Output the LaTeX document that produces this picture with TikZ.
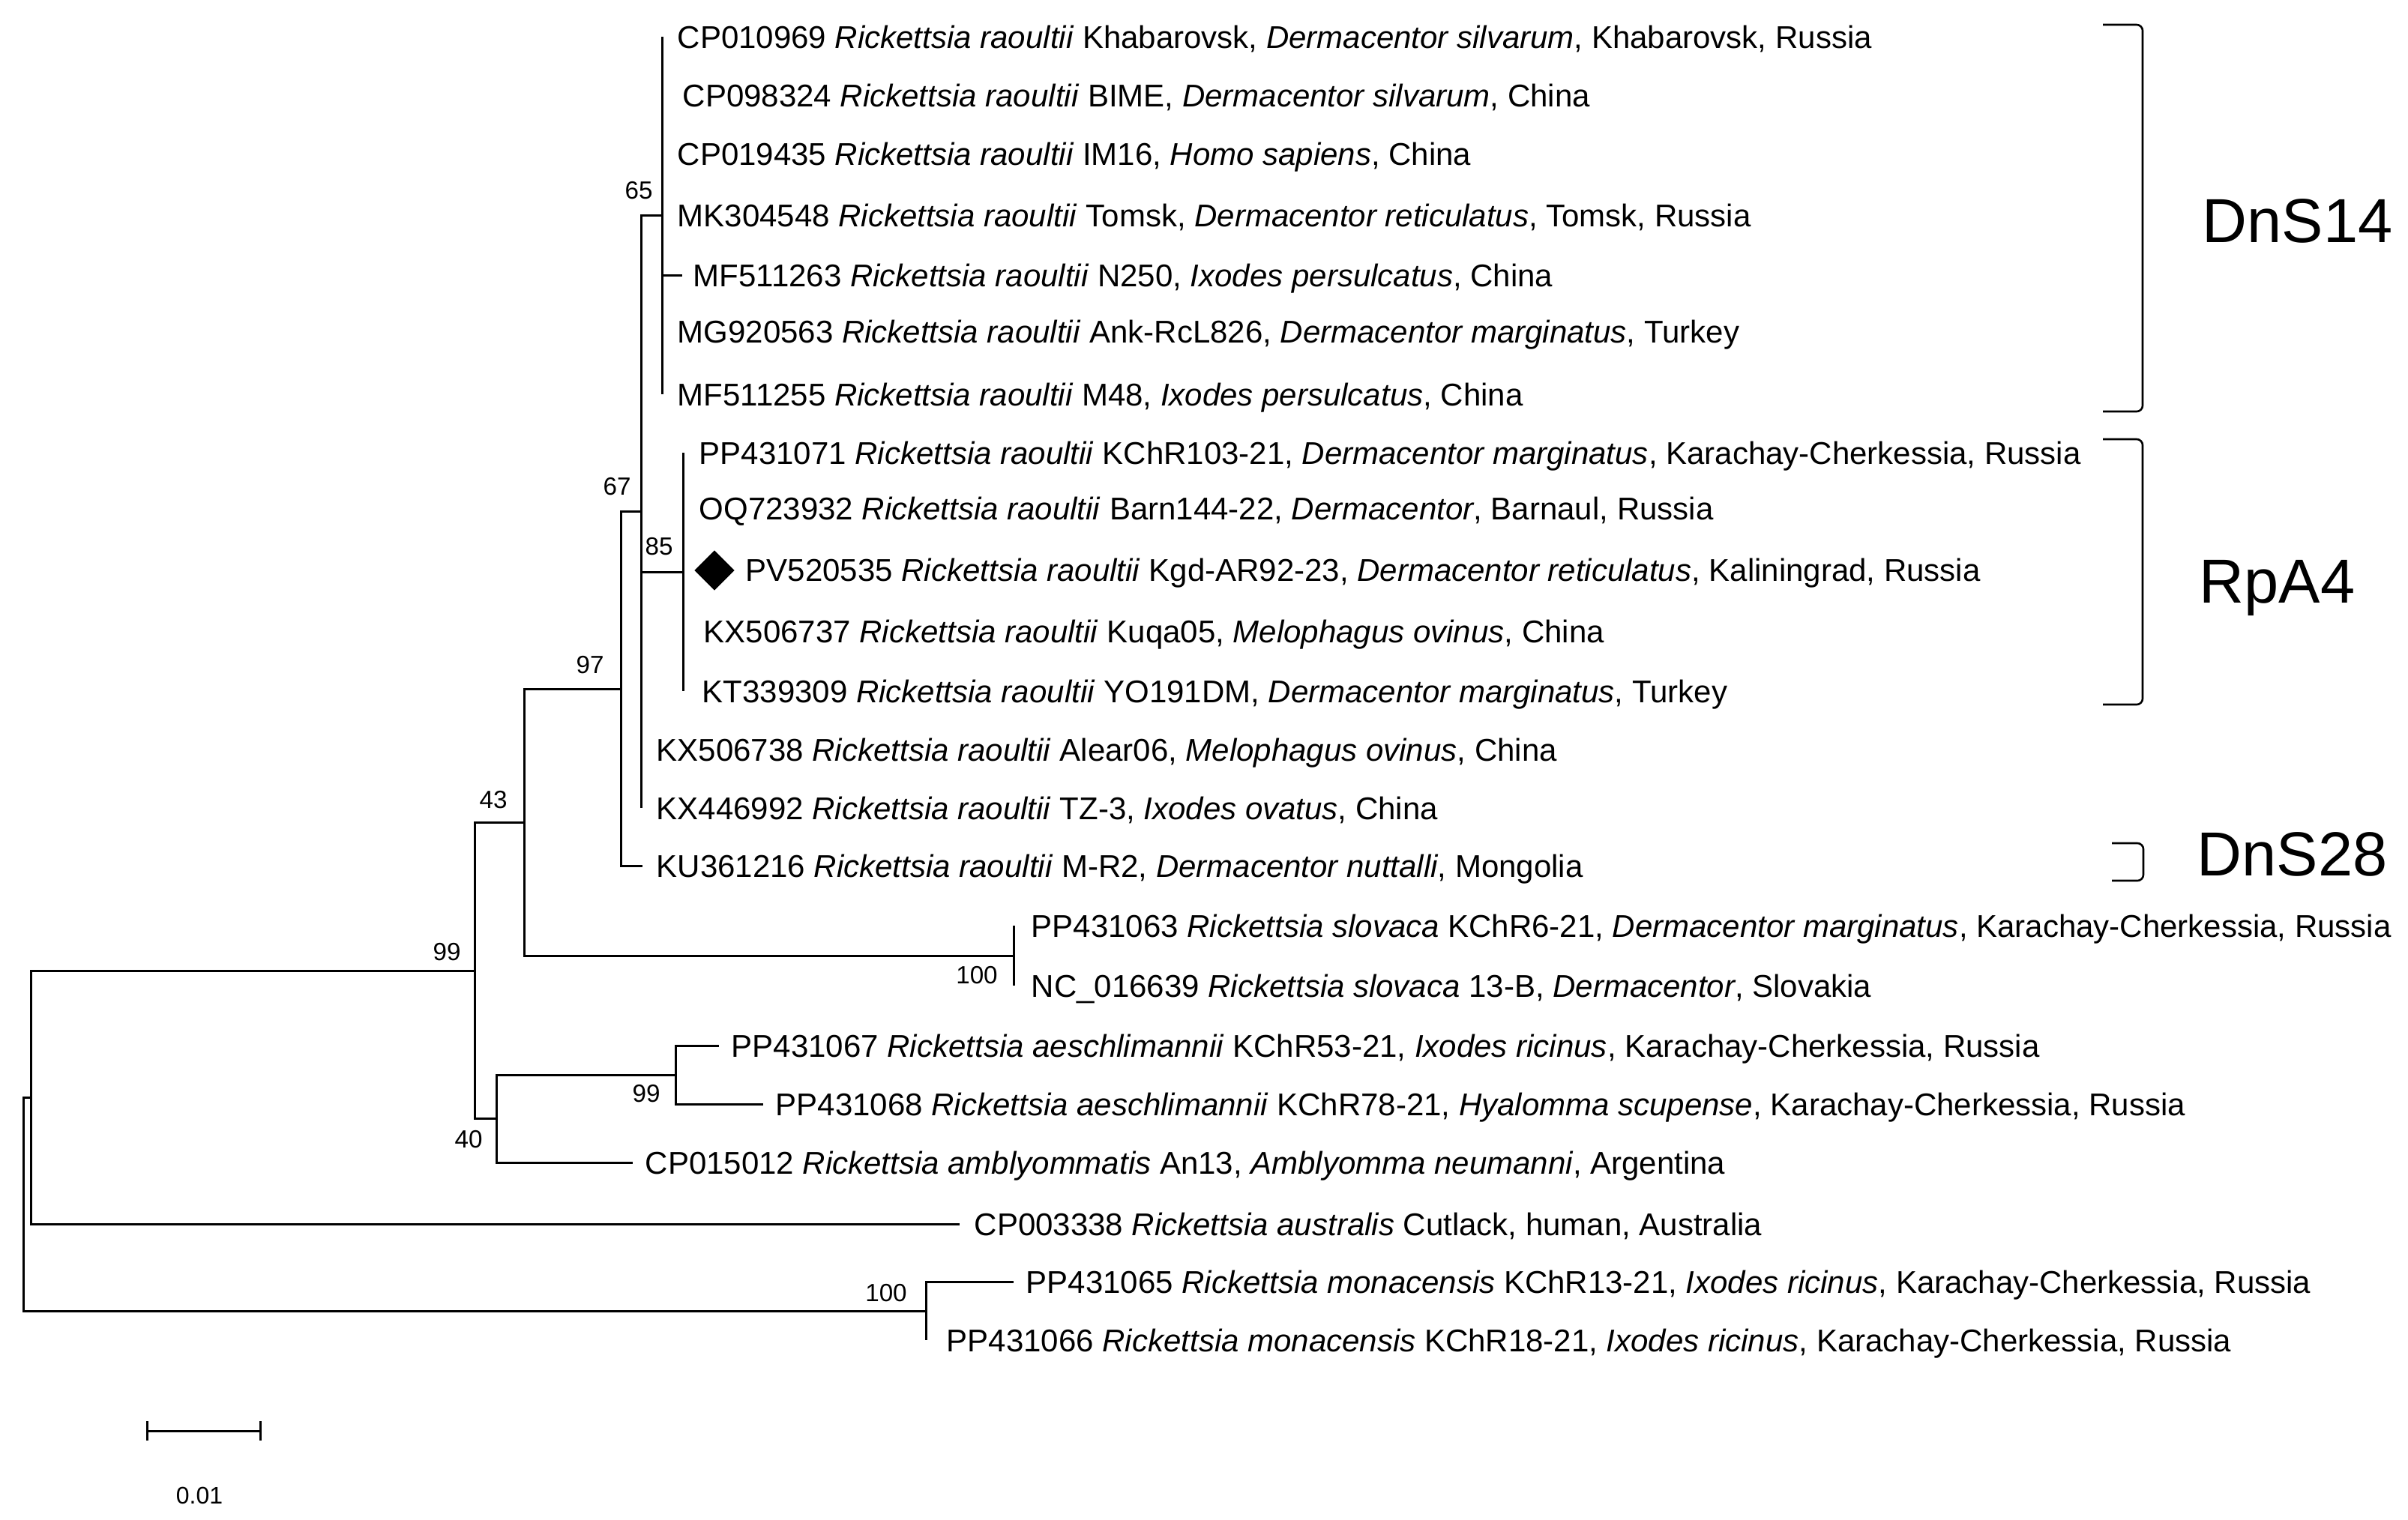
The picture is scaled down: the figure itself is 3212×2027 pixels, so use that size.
\documentclass[tikz,border=0pt]{standalone}
\usepackage{fontspec}
\setmainfont{Liberation Sans}
\usetikzlibrary{shapes.geometric}
\begin{document}
\begin{tikzpicture}[x=0.25pt,y=-0.25pt,
  br/.style={line width=0.75pt},
  leaf/.style={anchor=base west,inner sep=0pt,font=\fontsize{10.5pt}{12pt}\selectfont},
  boot/.style={inner sep=0pt,font=\fontsize{8.3pt}{10pt}\selectfont},
  clade/.style={anchor=base west,inner sep=0pt,font=\fontsize{20.75pt}{24pt}\selectfont},
  bracket/.style={line width=0.65pt,rounded corners=2pt}]
\useasboundingbox (0,0) rectangle (3212,2027);

% internal nodes
\coordinate (nR) at (31,1606);
\coordinate (nA) at (41,1464);
\coordinate (n99) at (633,1295);
\coordinate (n43) at (699,1097);
\coordinate (n97) at (828,919);
\coordinate (n67) at (855,682);
\coordinate (n65) at (883,287);
\coordinate (n85) at (911,763);
\coordinate (nSl) at (1352,1275);
\coordinate (n40) at (662,1492);
\coordinate (nAe) at (901,1434);
\coordinate (nMo) at (1235,1749);

% leaf tips
\coordinate (t1) at (883,49);
\coordinate (t2) at (883,127);
\coordinate (t3) at (883,205);
\coordinate (t4) at (883,287);
\coordinate (t5) at (910,367);
\coordinate (t6) at (883,442);
\coordinate (t7) at (883,526);
\coordinate (t8) at (911,604);
\coordinate (t9) at (911,678);
\coordinate (t10) at (911,760);
\coordinate (t11) at (911,842);
\coordinate (t12) at (911,922);
\coordinate (t13) at (855,1000);
\coordinate (t14) at (855,1078);
\coordinate (t15) at (857,1155);
\coordinate (t16) at (1352,1235);
\coordinate (t17) at (1352,1315);
\coordinate (t18) at (959,1395);
\coordinate (t19) at (1018,1473);
\coordinate (t20) at (844,1551);
\coordinate (t21) at (1280,1633);
\coordinate (t22) at (1352,1710);
\coordinate (t23) at (1235,1788);

% branches
\draw[br] (nR) |- (nA);
\draw[br] (nR) |- (nMo);
\draw[br] (nA) |- (n99);
\draw[br] (nA) |- (t21);
\draw[br] (n99) |- (n43);
\draw[br] (n99) |- (n40);
\draw[br] (n43) |- (n97);
\draw[br] (n43) |- (nSl);
\draw[br] (n97) |- (n67);
\draw[br] (n97) |- (t15);
\draw[br] (n67) |- (n65);
\draw[br] (n67) |- (n85);
\draw[br] (n67) |- (t13);
\draw[br] (n67) |- (t14);
\draw[br] (n65) |- (t1);
\draw[br] (n65) |- (t2);
\draw[br] (n65) |- (t3);
\draw[br] (n65) |- (t4);
\draw[br] (n65) |- (t5);
\draw[br] (n65) |- (t6);
\draw[br] (n65) |- (t7);
\draw[br] (n85) |- (t8);
\draw[br] (n85) |- (t9);
\draw[br] (n85) |- (t10);
\draw[br] (n85) |- (t11);
\draw[br] (n85) |- (t12);
\draw[br] (nSl) |- (t16);
\draw[br] (nSl) |- (t17);
\draw[br] (n40) |- (nAe);
\draw[br] (n40) |- (t20);
\draw[br] (nAe) |- (t18);
\draw[br] (nAe) |- (t19);
\draw[br] (nMo) |- (t22);
\draw[br] (nMo) |- (t23);

% bootstrap values
\node[boot] (b65) at (852,254) {65};
\node[boot] (b67) at (823,649) {67};
\node[boot] (b85) at (879,729) {85};
\node[boot] (b97) at (787,887) {97};
\node[boot] (b43) at (658,1067) {43};
\node[boot] (b99) at (596,1270) {99};
\node[boot] (b100s) at (1303,1301) {100};
\node[boot] (b99a) at (862,1459) {99};
\node[boot] (b40) at (625,1520) {40};
\node[boot] (b100m) at (1182,1725) {100};

% marker
\node[diamond,fill=black,inner sep=0pt,minimum width=13.5pt,minimum height=13.5pt] (dm) at (953,761) {};

% leaves
\node[leaf] (l1) at (903,64) {CP010969 \textit{Rickettsia raoultii} Khabarovsk, \textit{Dermacentor silvarum}, Khabarovsk, Russia};
\node[leaf] (l2) at (910,142) {CP098324 \textit{Rickettsia raoultii} BIME, \textit{Dermacentor silvarum}, China};
\node[leaf] (l3) at (903,220) {CP019435 \textit{Rickettsia raoultii} IM16, \textit{Homo sapiens}, China};
\node[leaf] (l4) at (903,302) {MK304548 \textit{Rickettsia raoultii} Tomsk, \textit{Dermacentor reticulatus}, Tomsk, Russia};
\node[leaf] (l5) at (924,382) {MF511263 \textit{Rickettsia raoultii} N250, \textit{Ixodes persulcatus}, China};
\node[leaf] (l6) at (903,457) {MG920563 \textit{Rickettsia raoultii} Ank-RcL826, \textit{Dermacentor marginatus}, Turkey};
\node[leaf] (l7) at (903,541) {MF511255 \textit{Rickettsia raoultii} M48, \textit{Ixodes persulcatus}, China};
\node[leaf] (l8) at (932,619) {PP431071 \textit{Rickettsia raoultii} KChR103-21, \textit{Dermacentor marginatus}, Karachay-Cherkessia, Russia};
\node[leaf] (l9) at (932,693) {OQ723932 \textit{Rickettsia raoultii} Barn144-22, \textit{Dermacentor}, Barnaul, Russia};
\node[leaf] (l10) at (994,775) {PV520535 \textit{Rickettsia raoultii} Kgd-AR92-23, \textit{Dermacentor reticulatus}, Kaliningrad, Russia};
\node[leaf] (l11) at (938,857) {KX506737 \textit{Rickettsia raoultii} Kuqa05, \textit{Melophagus ovinus}, China};
\node[leaf] (l12) at (936,937) {KT339309 \textit{Rickettsia raoultii} YO191DM, \textit{Dermacentor marginatus}, Turkey};
\node[leaf] (l13) at (875,1015) {KX506738 \textit{Rickettsia raoultii} Alear06, \textit{Melophagus ovinus}, China};
\node[leaf] (l14) at (875,1093) {KX446992 \textit{Rickettsia raoultii} TZ-3, \textit{Ixodes ovatus}, China};
\node[leaf] (l15) at (875,1170) {KU361216 \textit{Rickettsia raoultii} M-R2, \textit{Dermacentor nuttalli}, Mongolia};
\node[leaf] (l16) at (1375,1250) {PP431063 \textit{Rickettsia slovaca} KChR6-21, \textit{Dermacentor marginatus}, Karachay-Cherkessia, Russia};
\node[leaf] (l17) at (1375,1330) {NC\_016639 \textit{Rickettsia slovaca} 13-B, \textit{Dermacentor}, Slovakia};
\node[leaf] (l18) at (975,1410) {PP431067 \textit{Rickettsia aeschlimannii} KChR53-21, \textit{Ixodes ricinus}, Karachay-Cherkessia, Russia};
\node[leaf] (l19) at (1034,1488) {PP431068 \textit{Rickettsia aeschlimannii} KChR78-21, \textit{Hyalomma scupense}, Karachay-Cherkessia, Russia};
\node[leaf] (l20) at (860,1566) {CP015012 \textit{Rickettsia amblyommatis} An13, \textit{Amblyomma neumanni}, Argentina};
\node[leaf] (l21) at (1299,1648) {CP003338 \textit{Rickettsia australis} Cutlack, human, Australia};
\node[leaf] (l22) at (1368,1725) {PP431065 \textit{Rickettsia monacensis} KChR13-21, \textit{Ixodes ricinus}, Karachay-Cherkessia, Russia};
\node[leaf] (l23) at (1262,1803) {PP431066 \textit{Rickettsia monacensis} KChR18-21, \textit{Ixodes ricinus}, Karachay-Cherkessia, Russia};

% clade brackets
\draw[bracket] (2805,33) -- (2858,33) -- (2858,549) -- (2805,549);
\draw[bracket] (2805,586) -- (2858,586) -- (2858,940) -- (2805,940);
\draw[bracket] (2817,1125) -- (2859,1125) -- (2859,1175) -- (2817,1175);
\node[clade] (c1) at (2937,323) {DnS14};
\node[clade] (c2) at (2933,804) {RpA4};
\node[clade] (c3) at (2930,1168) {DnS28};

% scale bar
\coordinate (s1) at (196,1909);
\coordinate (s2) at (347,1909);
\draw[br] (s1) -- (s2);
\draw[br] ([yshift=13*0.25pt]s1) -- ([yshift=-13*0.25pt]s1);
\draw[br] ([yshift=13*0.25pt]s2) -- ([yshift=-13*0.25pt]s2);
\node[boot,font=\fontsize{8pt}{10pt}\selectfont] (sl) at (266,1995) {0.01};
\end{tikzpicture}
\end{document}
